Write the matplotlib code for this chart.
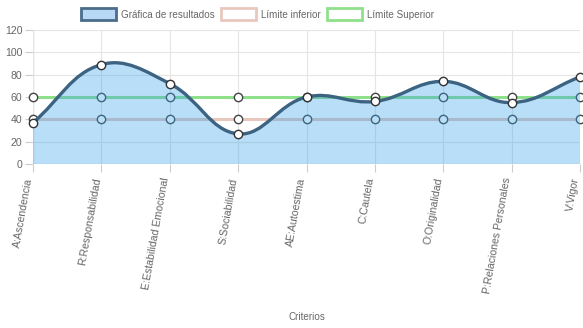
import numpy as np
import matplotlib
matplotlib.use("Agg")
import matplotlib.pyplot as plt
import matplotlib.transforms as mtransforms
from matplotlib.path import Path
from matplotlib.patches import PathPatch, Rectangle

categories = ["A:Ascendencia", "R:Responsabilidad", "E:Estabilidad Emocional",
              "S:Sociabilidad", "AE:Autoestima", "C:Cautela", "O:Originalidad",
              "P:Relaciones Personales", "V:Vigor"]
resultados = [37, 89, 72, 27, 60, 56, 74, 55, 78]
limite_inferior = [40, 40, 40, 40, 40, 40, 40, 40, 40]
limite_superior = [60, 60, 60, 60, 60, 60, 60, 60, 60]
y_ticks = [0, 20, 40, 60, 80, 100, 120]
legend_labels = ["Gráfica de resultados", "Límite inferior", "Límite Superior"]

W, H = 583, 328
plt.rcParams['font.family'] = ['Liberation Sans', 'DejaVu Sans']
fig = plt.figure(figsize=(W / 100, H / 100), dpi=100)

L, R, T, B = 33, 580, 30, 164
ax = fig.add_axes([L / W, 1 - B / H, (R - L) / W, (B - T) / H])
ax.set_xlim(0, len(categories) - 1)
ax.set_ylim(0, 120)

TXT = '#666666'
FS = 7.6
LFS = 7.1
GRID = '#e5e5e5'

# grid
ax.set_yticks(y_ticks)
ax.set_xticks(range(len(categories)))
ax.grid(True, color=GRID, linewidth=0.8, zorder=0)
for s in ax.spines.values():
    s.set_visible(False)
ax.axhline(0, color='#c8c8c8', linewidth=0.9, zorder=1)
ax.axvline(0, color='#c8c8c8', linewidth=0.9, zorder=1)
ax.tick_params(axis='both', colors='#cccccc', labelcolor=TXT, labelsize=FS,
               length=6, width=0.8)
ax.tick_params(axis='y', pad=1.5)
ax.set_xticklabels(categories, rotation=80, ha='right', va='center',
                   rotation_mode='anchor')
ax.tick_params(axis='x', pad=4)
shift = mtransforms.ScaledTranslation(-4 / 100, 0, fig.dpi_scale_trans)
for lab in ax.get_xticklabels():
    lab.set_transform(lab.get_transform() + shift)

x = np.arange(len(categories))

# limit lines (drawn beneath the results fill)
ax.plot(x, limite_inferior, color='#e8c8bc', linewidth=2.2, zorder=2,
        marker='o', markersize=6, markerfacecolor='white',
        markeredgecolor='#444444', markeredgewidth=1.0, clip_on=False)
ax.plot(x, limite_superior, color='#8fe08a', linewidth=2.2, zorder=2,
        marker='o', markersize=6, markerfacecolor='white',
        markeredgecolor='#444444', markeredgewidth=1.0, clip_on=False)

# Chart.js style bezier spline in pixel space
sx = (R - L) / (len(categories) - 1)
sy = (B - T) / 120.0
px = x * sx
py = np.array(resultados, dtype=float) * sy
t = 0.4
n = len(px)
cp_prev = []
cp_next = []
for i in range(n):
    p0 = (px[max(i - 1, 0)], py[max(i - 1, 0)])
    p1 = (px[i], py[i])
    p2 = (px[min(i + 1, n - 1)], py[min(i + 1, n - 1)])
    d01 = np.hypot(p1[0] - p0[0], p1[1] - p0[1])
    d12 = np.hypot(p2[0] - p1[0], p2[1] - p1[1])
    tot = d01 + d12
    s01 = d01 / tot if tot else 0
    s12 = d12 / tot if tot else 0
    fa, fb = t * s01, t * s12
    cp_prev.append((p1[0] - fa * (p2[0] - p0[0]), p1[1] - fa * (p2[1] - p0[1])))
    cp_next.append((p1[0] + fb * (p2[0] - p0[0]), p1[1] + fb * (p2[1] - p0[1])))

def to_data(p):
    return (p[0] / sx, min(max(p[1], 0), B - T) / sy)

verts = [to_data((px[0], py[0]))]
codes = [Path.MOVETO]
for i in range(1, n):
    verts += [to_data(cp_next[i - 1]), to_data(cp_prev[i]), to_data((px[i], py[i]))]
    codes += [Path.CURVE4] * 3

line_path = Path(verts, codes)
fill_verts = verts + [(x[-1], 0), (x[0], 0), verts[0]]
fill_codes = codes + [Path.LINETO, Path.LINETO, Path.CLOSEPOLY]
fill_path = Path(fill_verts, fill_codes)

FILL = (54 / 255, 162 / 255, 235 / 255, 0.35)
LINE = '#3d6383'
ax.add_patch(PathPatch(fill_path, facecolor=FILL, edgecolor='none', zorder=3))
ax.add_patch(PathPatch(line_path, facecolor='none', edgecolor=LINE,
                       linewidth=2.4, zorder=4, capstyle='round'))
ax.plot(x, resultados, linestyle='none', marker='o', markersize=6,
        markerfacecolor='white', markeredgecolor='#333333',
        markeredgewidth=1.0, zorder=5, clip_on=False)

# x axis title
fig.text((L + R) / 2 / W, 1 - 317 / H, 'Criterios', ha='center', va='center',
         color=TXT, fontsize=LFS)

# legend
def fx(v):
    return v / W

def fy(v):
    return 1 - v / H

boxes = [(81, 116, (0.72, 0.85, 0.96), '#4a6d8c'),
         (221, 256, 'white', '#e8c8bc'),
         (327, 362, 'white', '#8fe08a')]
for (x0, x1, fc, ec), lab in zip(boxes, legend_labels):
    fig.add_artist(Rectangle((fx(x0), fy(20)), fx(x1 - x0), 12 / H,
                             transform=fig.transFigure, facecolor=fc,
                             edgecolor=ec, linewidth=2.0))
    fig.text(fx(x1 + 5), fy(14.5), lab, ha='left', va='center', color=TXT,
             fontsize=LFS)

fig.savefig('out.png', dpi=100)
